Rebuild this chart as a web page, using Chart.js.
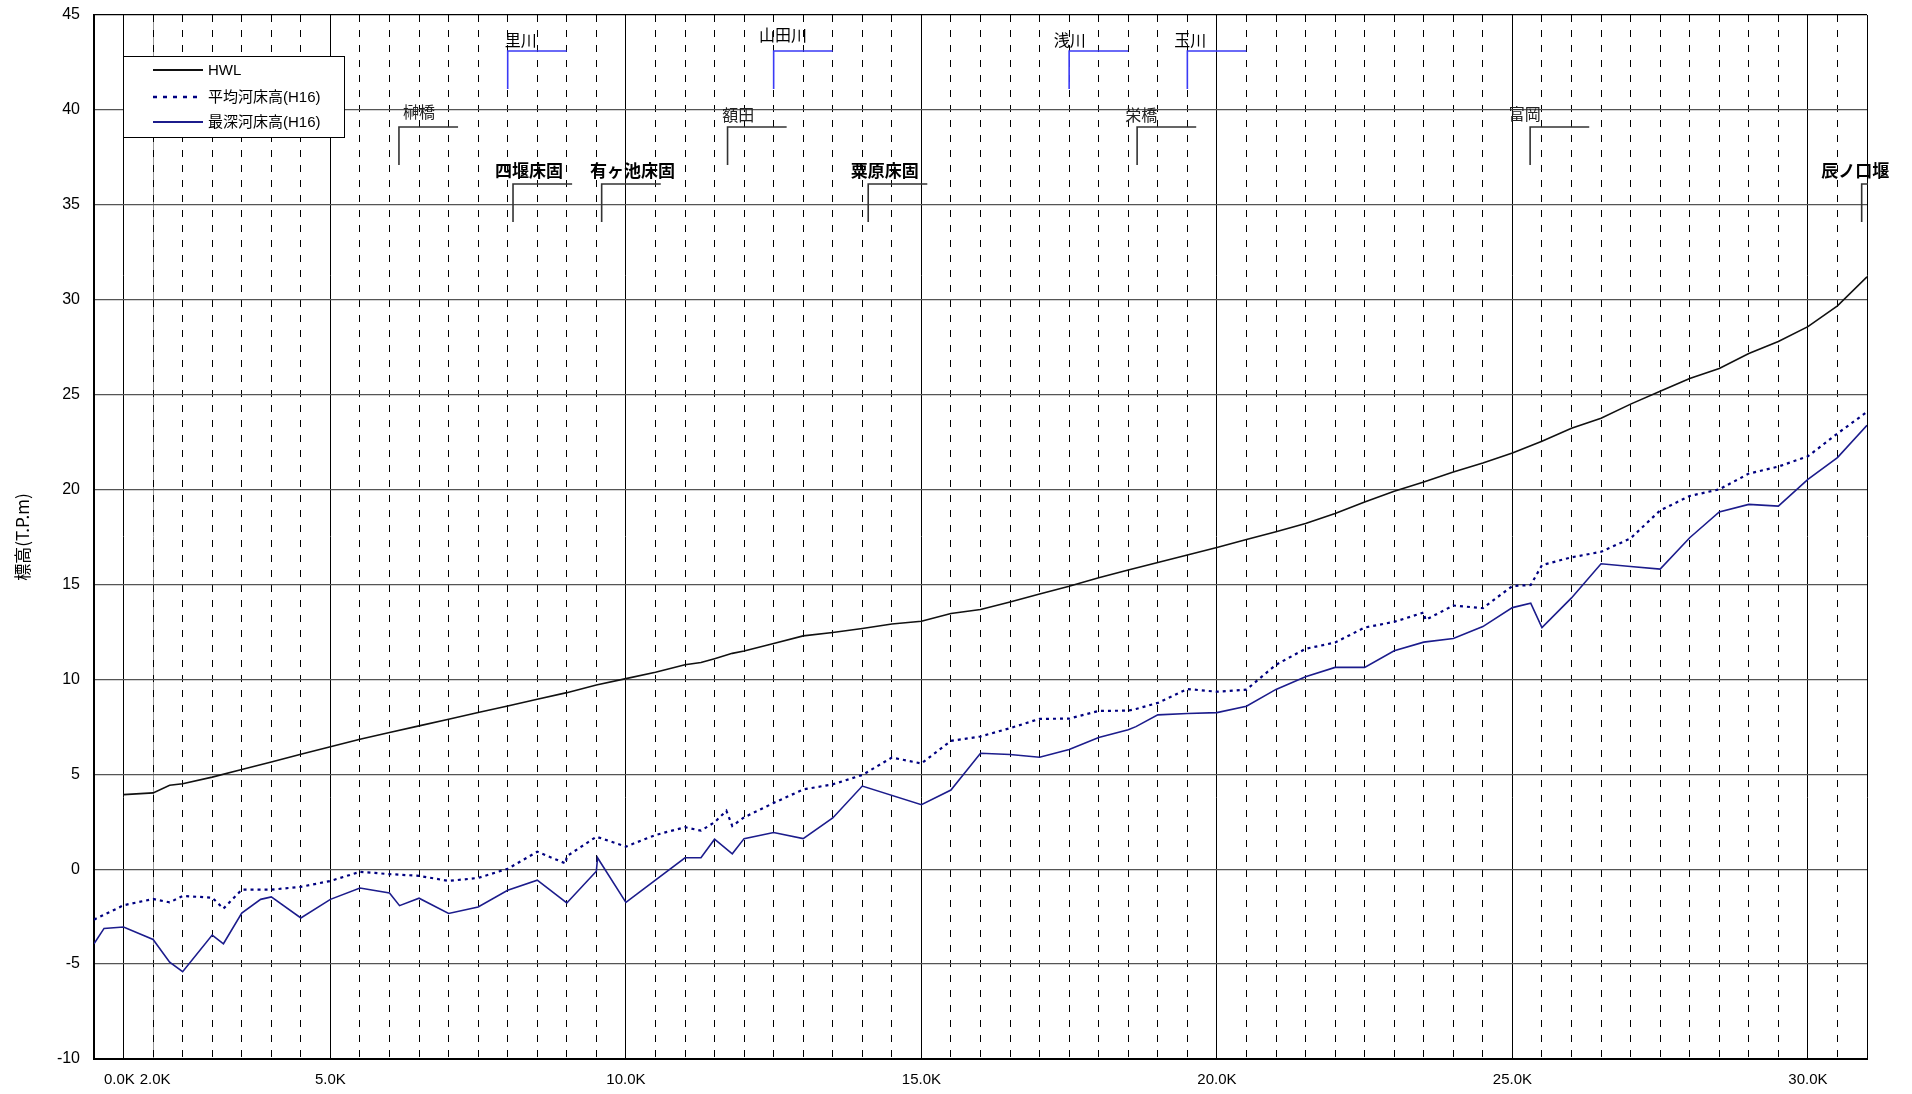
<!DOCTYPE html>
<html lang="ja">
<head>
<meta charset="UTF-8">
<title>縦断図</title>
<script src="https://cdn.jsdelivr.net/npm/chart.js@4.4.1/dist/chart.umd.min.js"></script>
<style>
  html, body { margin: 0; padding: 0; background: #fff; }
  #zone { width: 1912px; height: 1094px; }
</style>
</head>
<body>
<div id="zone"><canvas id="myChart"></canvas></div>
<script>
    // HWL (km, T.P.m)
    const hwlKm = [1.5, 2.0, 2.28, 2.5, 3.0, 3.5, 4.0, 4.5, 5.0, 5.5, 6.0, 6.5, 7.0, 7.5, 8.0, 8.5, 9.0, 9.5,
        10.0, 10.5, 11.0, 11.27, 11.5, 11.8, 12.0, 12.5, 13.0, 13.5, 14.0, 14.5, 15.0, 15.5, 16.0, 16.5, 17.0, 17.5,
        18.0, 18.5, 19.0, 19.5, 20.0, 20.5, 21.0, 21.5, 22.0, 22.5, 23.0, 23.5, 24.0, 24.5, 25.0, 25.5, 26.0, 26.5,
        27.0, 27.5, 28.0, 28.5, 29.0, 29.5, 30.0, 30.5, 31.0];
    const hwlVal = [3.93, 4.02, 4.42, 4.50, 4.85, 5.25, 5.65, 6.05, 6.45, 6.85, 7.2, 7.55, 7.9, 8.25, 8.6, 8.95, 9.3, 9.7,
        10.04, 10.37, 10.77, 10.89, 11.09, 11.37, 11.49, 11.89, 12.29, 12.47, 12.68, 12.92, 13.06, 13.47, 13.68, 14.08, 14.5, 14.9,
        15.35, 15.76, 16.16, 16.55, 16.95, 17.37, 17.78, 18.21, 18.74, 19.35, 19.91, 20.40, 20.93, 21.4, 21.93, 22.55, 23.23, 23.76,
        24.50, 25.18, 25.85, 26.38, 27.17, 27.80, 28.58, 29.68, 31.21];

    // 平均河床高(H16)
    const meanKm = [1.0, 1.5, 2.0, 2.28, 2.5, 3.0, 3.19, 3.5, 4.0, 4.5, 5.0, 5.5, 6.0, 6.5, 7.0, 7.5, 8.0, 8.5, 8.98, 9.0,
        9.5, 10.0, 10.5, 11.0, 11.27, 11.5, 11.7, 11.8, 12.0, 12.5, 13.0, 13.5, 14.0, 14.5, 15.0, 15.5, 16.0, 16.5, 17.0, 17.5,
        18.0, 18.5, 18.63, 19.0, 19.5, 20.0, 20.5, 21.0, 21.5, 22.0, 22.5, 23.0, 23.5, 23.53, 24.0, 24.5, 25.0, 25.31, 25.5, 26.0,
        26.5, 27.0, 27.5, 28.0, 28.5, 29.0, 29.5, 30.0, 30.5, 31.0];
    const meanVal = [-2.66, -1.90, -1.57, -1.75, -1.41, -1.50, -2.08, -1.08, -1.08, -0.93, -0.62, -0.14, -0.26, -0.35, -0.62, -0.46, 0.02, 0.92, 0.30, 0.68,
        1.71, 1.19, 1.80, 2.21, 2.03, 2.47, 3.08, 2.28, 2.73, 3.49, 4.20, 4.47, 4.96, 5.88, 5.57, 6.76, 6.99, 7.43, 7.92, 7.93,
        8.34, 8.35, 8.44, 8.76, 9.49, 9.35, 9.46, 10.77, 11.61, 11.94, 12.73, 13.03, 13.52, 13.13, 13.89, 13.75, 14.92, 14.97, 16.02, 16.43,
        16.72, 17.43, 18.90, 19.66, 20.01, 20.84, 21.21, 21.75, 22.95, 24.09];

    // 最深河床高(H16)
    const deepKm = [1.0, 1.17, 1.5, 2.0, 2.28, 2.5, 3.0, 3.19, 3.5, 3.82, 4.0, 4.5, 5.0, 5.5, 6.0, 6.17, 6.5, 7.0, 7.5, 8.0,
        8.5, 9.0, 9.5, 9.52, 10.0, 11.0, 11.27, 11.5, 11.8, 12.0, 12.5, 13.0, 13.5, 14.0, 15.0, 15.5, 16.0, 16.5, 17.0, 17.5,
        18.0, 18.5, 18.63, 19.0, 19.5, 20.0, 20.5, 21.0, 21.5, 22.0, 22.5, 23.0, 23.5, 24.0, 24.5, 25.0, 25.31, 25.5, 26.0, 26.5,
        27.0, 27.5, 28.0, 28.5, 29.0, 29.5, 30.0, 30.5, 31.0];
    const deepVal = [-3.93, -3.12, -3.05, -3.70, -4.90, -5.40, -3.47, -3.93, -2.31, -1.59, -1.46, -2.57, -1.59, -0.99, -1.25, -1.92, -1.53, -2.33, -1.99, -1.11,
        -0.58, -1.78, -0.11, 0.60, -1.75, 0.60, 0.60, 1.58, 0.81, 1.61, 1.93, 1.61, 2.70, 4.38, 3.40, 4.17, 6.11, 6.04, 5.90, 6.30,
        6.94, 7.34, 7.51, 8.13, 8.20, 8.25, 8.58, 9.47, 10.14, 10.63, 10.63, 11.51, 11.96, 12.15, 12.78, 13.78, 14.01, 12.73, 14.29, 16.09,
        15.95, 15.81, 17.46, 18.82, 19.22, 19.13, 20.54, 21.68, 23.39];

    // axe X : lignes pleines avec libelles, lignes tiretees tous les 0.5
    const xTickKm = [1.5, 2.0, 5.0, 10.0, 15.0, 20.0, 25.0, 30.0, 31.0];
    const xTickText = ['0.0K  ', ' 2.0K', '5.0K', '10.0K', '15.0K', '20.0K', '25.0K', '30.0K', ''];
    const xDashKm = [];
    for (let k = 2.0; k < 31; k += 0.5) {
        if (k % 5 !== 0) xDashKm.push(k);
    }

    // reperes (ponts, affluents, seuils)
    const markName = ['榊橋', '額田', '栄橋', '富岡', '里川', '山田川', '浅川', '玉川', '四堰床固', '有ヶ池床固', '粟原床固', '辰ノ口堰'];
    const markKind = ['bridge', 'bridge', 'bridge', 'bridge', 'river', 'river', 'river', 'river', 'weir', 'weir', 'weir', 'weir'];
    const markKm = [6.16, 11.72, 18.65, 25.30, 8.0, 12.5, 17.5, 19.5, 8.09, 9.59, 14.10, 30.91];
    const markTop = [39.1, 39.1, 39.1, 39.1, 43.1, 43.1, 43.1, 43.1, 36.1, 36.1, 36.1, 36.1];
    const markBottom = [37.1, 37.1, 37.1, 37.1, 41.1, 41.1, 41.1, 41.1, 34.1, 34.1, 34.1, 34.1];
    const labelKm = [6.50, 11.90, 18.72, 25.21, 8.22, 12.66, 17.51, 19.55, 8.36, 10.11, 14.38, 30.80];
    const labelLevel = [39.88, 39.75, 39.71, 39.80, 43.70, 43.96, 43.70, 43.70, 36.78, 36.78, 36.78, 36.78];

    const toPoints = (km, val) => km.map((k, i) => ({x: k, y: val[i]}));

    Chart.defaults.font.family = "'Liberation Sans', Arial, sans-serif";
    Chart.defaults.color = '#000';

    // reperes en L
    const reperes = {
        id: 'reperes',
        afterDatasetsDraw(chart) {
            const {ctx, chartArea} = chart;
            const x = chart.scales.x, y = chart.scales.y;
            markName.forEach((name, i) => {
                const kind = markKind[i];
                const x1 = x.getPixelForValue(markKm[i]);
                const x2 = x.getPixelForValue(markKm[i] + 1.0);
                const yt = y.getPixelForValue(markTop[i]);
                const yb = y.getPixelForValue(markBottom[i]);
                ctx.save();
                ctx.beginPath();
                ctx.rect(chartArea.left, chartArea.top, chartArea.right - chartArea.left + 1, chartArea.bottom - chartArea.top);
                ctx.clip();
                ctx.strokeStyle = kind === 'river' ? '#3a3af5' : '#333';
                ctx.lineWidth = 1.6;
                ctx.beginPath();
                ctx.moveTo(x1, yb);
                ctx.lineTo(x1, yt);
                ctx.lineTo(x2, yt);
                ctx.stroke();
                ctx.restore();

                ctx.save();
                ctx.fillStyle = kind === 'bridge' ? '#222' : '#000';
                ctx.font = kind === 'weir' ? "bold 17px 'Noto Sans CJK JP'" : "16px 'Noto Sans CJK JP'";
                ctx.textAlign = 'center';
                ctx.textBaseline = 'middle';
                ctx.fillText(name, x.getPixelForValue(labelKm[i]), y.getPixelForValue(labelLevel[i]));
                ctx.restore();
            });
        }
    };

    // legende encadree
    const legendeBoite = {
        id: 'legendeBoite',
        afterDatasetsDraw(chart) {
            const {ctx} = chart;
            ctx.save();
            ctx.fillStyle = '#fff';
            ctx.fillRect(123, 56, 221, 81);
            ctx.strokeStyle = '#000';
            ctx.lineWidth = 1;
            ctx.strokeRect(123.5, 56.5, 221, 81);
            const rows = [70, 97, 122];
            chart.data.datasets.forEach((ds, i) => {
                ctx.beginPath();
                ctx.strokeStyle = ds.borderColor;
                ctx.lineWidth = i === 1 ? 2.6 : 1.8;
                ctx.setLineDash(i === 1 ? [4, 6] : []);
                ctx.moveTo(153, rows[i]);
                ctx.lineTo(203, rows[i]);
                ctx.stroke();
                ctx.setLineDash([]);
                ctx.fillStyle = '#000';
                ctx.font = "15px 'Liberation Sans', 'Noto Sans CJK JP'";
                ctx.textBaseline = 'middle';
                ctx.fillText(ds.label, 208, rows[i] + 1);
            });
            ctx.restore();
        }
    };

    const ctx = document.getElementById('myChart').getContext('2d');
    const chart = new Chart(ctx, {
        type: 'line',
        data: {
            datasets: [{
                label: 'HWL',
                data: toPoints(hwlKm, hwlVal),
                borderColor: '#111',
                borderWidth: 1.6
            }, {
                label: '平均河床高(H16)',
                data: toPoints(meanKm, meanVal),
                borderColor: '#000080',
                borderWidth: 2.2,
                borderDash: [3, 4]
            }, {
                label: '最深河床高(H16)',
                data: toPoints(deepKm, deepVal),
                borderColor: '#1c1c8c',
                borderWidth: 1.6
            }]
        },
        options: {
            responsive: true,
            maintainAspectRatio: false,
            animation: false,
            devicePixelRatio: 1,
            layout: {padding: {top: 15, right: 45, bottom: 0, left: 0}},
            elements: {
                point: {radius: 0},
                line: {tension: 0, fill: false}
            },
            plugins: {
                legend: {display: false},
                tooltip: {enabled: false}
            },
            scales: {
                x: {
                    type: 'linear',
                    position: 'bottom',
                    min: 1,
                    max: 31,
                    afterBuildTicks: s => { s.ticks = xTickKm.map(v => ({value: v})); },
                    afterFit: s => { s.height = 35; },
                    ticks: {
                        autoSkip: false,
                        maxRotation: 0,
                        minRotation: 0,
                        padding: 12,
                        font: {size: 15},
                        callback: v => xTickText[xTickKm.indexOf(v)]
                    },
                    grid: {
                        drawTicks: false,
                        color: c => (c.tick && c.tick.value === 2.0) ? '#999' : '#000',
                        lineWidth: 1
                    },
                    border: {color: '#000', width: 2}
                },
                x2: {
                    type: 'linear',
                    position: 'top',
                    min: 1,
                    max: 31,
                    afterBuildTicks: s => { s.ticks = xDashKm.map(v => ({value: v})); },
                    afterFit: s => { s.height = 0; },
                    ticks: {display: false},
                    grid: {drawTicks: false, color: '#000', lineWidth: 1},
                    border: {display: false, dash: [7, 8]}
                },
                y: {
                    min: -10,
                    max: 45,
                    afterFit: s => { s.width = 94; },
                    ticks: {
                        stepSize: 5,
                        padding: 4,
                        font: {size: 16}
                    },
                    grid: {
                        drawTicks: true,
                        tickLength: 10,
                        tickColor: 'rgba(0,0,0,0)',
                        color: c => (c.tick && c.tick.value === 45) ? '#000' : '#555',
                        lineWidth: 1.2
                    },
                    border: {color: '#000', width: 2},
                    title: {
                        display: true,
                        text: '標高(T.P.m)',
                        font: {size: 17, family: "'Noto Sans CJK JP', sans-serif"},
                        padding: {top: 12, bottom: 0}
                    }
                }
            }
        },
        plugins: [reperes, legendeBoite]
    });
</script>
</body>
</html>
